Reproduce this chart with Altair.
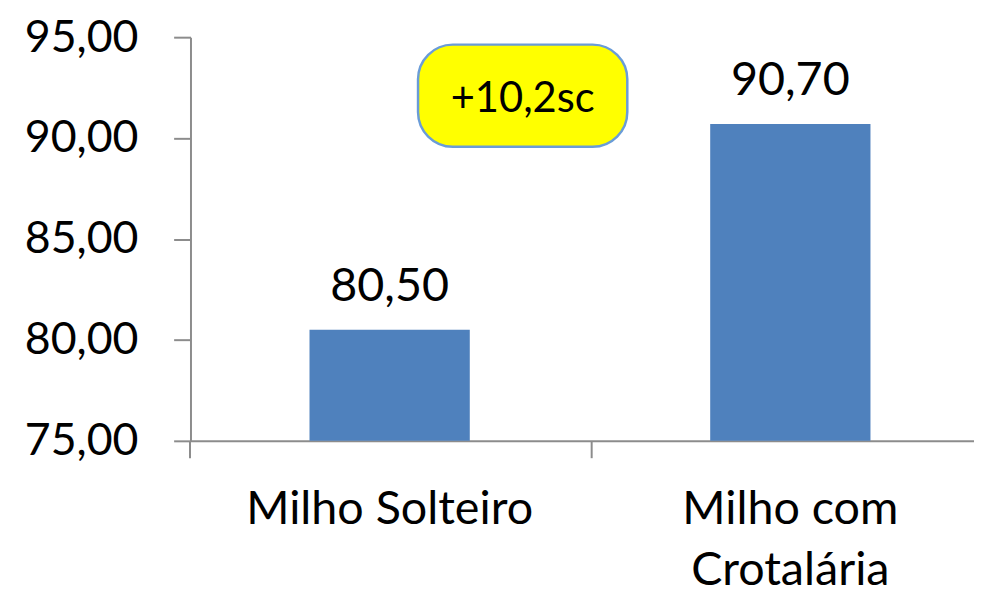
import altair as alt
import pandas as pd

# ---- data ----
categories = ["Milho Solteiro", "Milho com Crotalária"]
values = [80.50, 90.70]
y_ticks = [75, 80, 85, 90, 95]
label_lines = {"Milho com Crotalária": ["Milho com", "Crotalária"]}

# badge: position measured from 1st category centre (0) to 2nd category centre (1)
badge_text = ["+10,2sc"]
badge_value = [92.1]
badge_pos = [0.332]

# ---- styles ----
FONT = "Lato"
BAR_COLOR = "#4F81BD"
AXIS_COLOR = "#8C8C8C"
BADGE_FILL = "#FFFF00"
BADGE_STROKE = "#6A9CD8"
BADGE_W = 211.0
BADGE_H = 103.0
BADGE_R = 35.0

WIDTH, HEIGHT = 790, 407
P_IN, P_OUT, ALIGN = 0.6, 0.2777, 0.5348


def rounded_rect_path(w, h, r):
    s = w / 2.0
    hh = (h / 2.0) / s
    rr = r / s
    k = 0.5523 * rr
    a = 1 - rr
    f = lambda v: f"{v:.4f}"
    return (
        f"M{f(-a)},{f(-hh)} L{f(a)},{f(-hh)} "
        f"C{f(a + k)},{f(-hh)} 1,{f(-hh + rr - k)} 1,{f(-hh + rr)} "
        f"L1,{f(hh - rr)} "
        f"C1,{f(hh - rr + k)} {f(a + k)},{f(hh)} {f(a)},{f(hh)} "
        f"L{f(-a)},{f(hh)} "
        f"C{f(-a - k)},{f(hh)} -1,{f(hh - rr + k)} -1,{f(hh - rr)} "
        f"L-1,{f(-hh + rr)} "
        f"C-1,{f(-hh + rr - k)} {f(-a - k)},{f(-hh)} {f(-a)},{f(-hh)} Z"
    )


# linear domain matching the band layout (category centres at 0 and 1)
n = len(categories)
step = WIDTH / (n - P_IN + 2 * P_OUT)
first_center = (WIDTH - step * (n - P_IN)) * ALIGN + step * (1 - P_IN) / 2
lin_domain = [-first_center / step, (WIDTH - first_center) / step]

bars_df = pd.DataFrame({"cat": categories, "value": values})
badge_df = pd.DataFrame({"pos": badge_pos, "value": badge_value, "text": badge_text})

label_expr = " : ".join(
    [f"datum.value == '{k}' ? {v!r}" for k, v in label_lines.items()] + ["datum.value"]
)

x_scale = alt.Scale(domain=categories, paddingInner=P_IN, paddingOuter=P_OUT, align=ALIGN)
y_scale = alt.Scale(domain=[75, 95], nice=False, zero=False)

x_axis = alt.Axis(
    title=None, orient="bottom", labelAngle=0,
    domainColor=AXIS_COLOR, domainWidth=2,
    tickColor=AXIS_COLOR, tickWidth=2, tickSize=17, bandPosition=-0.7426,
    labelFont=FONT, labelFontSize=47, labelColor="black",
    labelPadding=66, labelBaseline="alphabetic", labelLineHeight=62,
    labelLimit=0, labelExpr=label_expr,
)
y_axis = alt.Axis(
    title=None, values=y_ticks, grid=False,
    domainColor=AXIS_COLOR, domainWidth=2,
    tickColor=AXIS_COLOR, tickWidth=2, tickSize=17,
    labelFont=FONT, labelFontSize=45, labelColor="black", labelPadding=36,
    labelExpr="replace(format(datum.value, '.2f'), '.', ',')",
)

X = alt.X("cat:N", scale=x_scale, axis=x_axis, sort=categories)
Y = alt.Y("value:Q", scale=y_scale, axis=y_axis)

bars = alt.Chart(bars_df).mark_bar(color=BAR_COLOR, clip=True).encode(x=X, y=Y)

bar_labels = alt.Chart(bars_df).transform_calculate(
    label="replace(format(datum.value, '.2f'), '.', ',')"
).mark_text(
    font=FONT, fontSize=47, color="black", baseline="alphabetic", dy=-29
).encode(x=X, y=Y, text="label:N")

Xb = alt.X("pos:Q", scale=alt.Scale(domain=lin_domain, nice=False, zero=False), axis=None)

badge_box = alt.Chart(badge_df).mark_point(
    shape=rounded_rect_path(BADGE_W, BADGE_H, BADGE_R), size=BADGE_W ** 2,
    filled=True, fill=BADGE_FILL, stroke=BADGE_STROKE, strokeWidth=2.5, opacity=1,
).encode(x=Xb, y=Y)

badge_label = alt.Chart(badge_df).mark_text(
    font=FONT, fontSize=42, color="black", baseline="alphabetic", dy=16
).encode(x=Xb, y=Y, text="text:N")

main = alt.layer(bars, bar_labels)
badge = alt.layer(badge_box, badge_label)

chart = alt.layer(main, badge).resolve_scale(x="independent").properties(
    width=WIDTH, height=HEIGHT,
    autosize=alt.AutoSizeParams(type="none"),
    padding={"left": 184, "top": 27, "right": 0, "bottom": 150},
    background="white",
).configure_view(stroke=None)

chart.save("out.html", embed_options={"renderer": "svg", "actions": False})
